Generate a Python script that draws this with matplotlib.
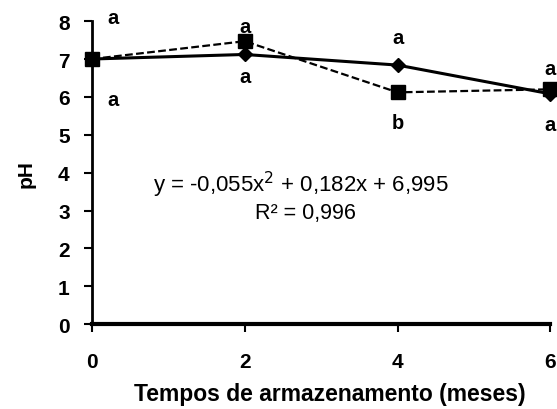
import matplotlib.pyplot as plt

plt.rcParams['font.family'] = ['Liberation Sans', 'DejaVu Sans']

meses = [0, 2, 4, 6]
ph_solid = [7.0, 7.12, 6.84, 6.08]    # diamonds, solid line
ph_dashed = [7.0, 7.47, 6.12, 6.2]    # squares, dashed line

# letters (x, y, text)
letras_x = [0.27, 0.27, 2.0, 2.0, 4.0, 4.0, 6.0, 6.0]
letras_y = [8.1, 5.94, 7.87, 6.55, 7.57, 5.33, 6.75, 5.28]
letras = ['a', 'a', 'a', 'a', 'a', 'b', 'a', 'a']

equacao = 'y = -0,055x$^2$ + 0,182x + 6,995'
r2 = 'R² = 0,996'

fig = plt.figure(figsize=(5.57, 4.10), dpi=100)
ax = fig.add_axes([0.165, 0.207, 0.823, 0.739])

ax.plot(meses, ph_solid, color='black', lw=2.2, marker='D', ms=7, zorder=3)
ax.plot(meses, ph_dashed, color='black', lw=1.6, ls=(0, (3.5, 1.5)),
        marker='s', ms=10, zorder=4)

for x, y, t in zip(letras_x, letras_y, letras):
    ax.text(x, y, t, ha='center', va='center', fontsize=14.5, fontweight='bold')

ax.text(2.73, 3.69, equacao, ha='center', va='center', fontsize=16)
ax.text(2.8, 2.96, r2, ha='center', va='center', fontsize=15.5)

ax.set_xlim(0, 6)
ax.set_ylim(0, 8)
ax.set_xticks([0, 2, 4, 6])
ax.set_yticks(range(9))
for s in ['top', 'right']:
    ax.spines[s].set_visible(False)
ax.spines['left'].set_linewidth(2)
ax.spines['bottom'].set_linewidth(3)
ax.tick_params(axis='y', direction='out', length=6, width=1.5, labelsize=15, pad=10)
ax.tick_params(axis='x', direction='out', length=6, width=1.5, labelsize=15, pad=14)
for lab in ax.get_xticklabels() + ax.get_yticklabels():
    lab.set_fontweight('bold')
for line in ax.lines:
    line.set_clip_on(False)

ax.set_ylabel('pH', fontsize=15, fontweight='bold', labelpad=16)
ax.set_xlabel('Tempos de armazenamento (meses)', fontsize=16.5, fontweight='bold', labelpad=9)
ax.xaxis.set_label_coords(0.52, -0.19)

fig.savefig('out.png', dpi=100)
